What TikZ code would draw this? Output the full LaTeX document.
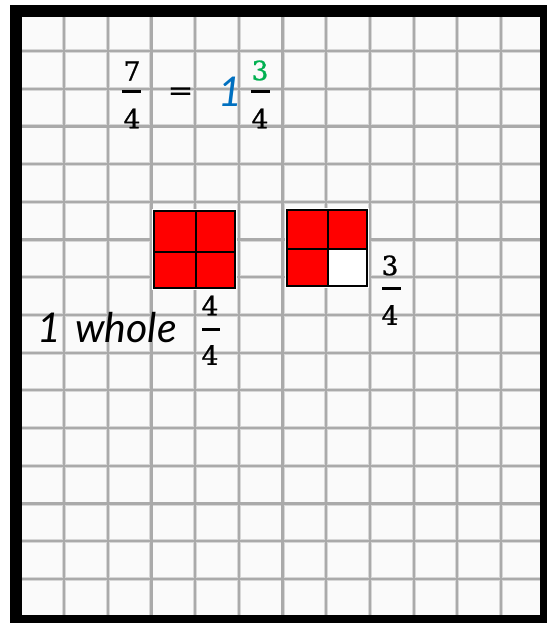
\documentclass[tikz,border=0pt]{standalone}
\usepackage{fontspec}
\newfontfamily\handfont{Lato}
\newfontfamily\digitfont{DejaVu Serif}[FakeBold=1.0]
\definecolor{gridgray}{RGB}{170,170,170}
\definecolor{gridlight}{RGB}{215,215,215}
\definecolor{bgc}{RGB}{250,250,250}
\definecolor{sqred}{RGB}{255,0,0}
\definecolor{oneblue}{RGB}{0,112,192}
\definecolor{threegreen}{RGB}{0,176,80}
\begin{document}
\begin{tikzpicture}[x=1pt,y=-1pt,
  digit/.style={inner sep=0pt, font={\digitfont\fontsize{26.5}{28}\selectfont}},
  hand/.style={inner sep=0pt, font={\handfont\itshape\fontsize{41}{42}\selectfont}},
  fracbar/.style={line width=3pt},
  cellline/.style={line width=2pt, black},
  gridback/.style={line width=4pt, gridlight},
  gridfront/.style={line width=2.2pt, gridgray}]
\useasboundingbox (0,0) rectangle (546,623);
% frame
\fill[white] (0,0) rectangle (546,623);
\fill[black] (10,5) rectangle (560,640);
\fill[bgc] (22,17) rectangle (540,615);
% grid
\begin{scope}
  \clip (22,17) rectangle (540,615);
  \foreach \i in {0,...,10} {
    \draw[gridback] ({64+43.7*\i},17) -- ({64+43.7*\i},615);
  }
  \foreach \j in {0,...,14} {
    \draw[gridback] (22,{51+37.71*\j}) -- (540,{51+37.71*\j});
  }
  \foreach \i in {0,...,10} {
    \draw[gridfront] ({64+43.7*\i},17) -- ({64+43.7*\i},615);
  }
  \foreach \j in {0,...,14} {
    \draw[gridfront] (22,{51+37.71*\j}) -- (540,{51+37.71*\j});
  }
\end{scope}
% squares
\draw[white, line width=4pt] (154,211) rectangle (235,288);
\fill[sqred] (154,211) rectangle (235,288);
\draw[cellline] (154,211) rectangle (235,288) (196,211) -- (196,288) (154,252) -- (235,252);
\draw[white, line width=4pt] (287,210) rectangle (367,286);
\fill[sqred] (287,210) rectangle (367,286);
\fill[white] (328,249) rectangle (367,286);
\draw[cellline] (287,210) rectangle (367,286) (328,210) -- (328,286) (287,249) -- (367,249);
% top equation
\node[digit] (n7) at (132,71) {7};
\draw[fracbar] (122,92) -- (141,92);
\node[digit] (d7) at (132,118.5) {4};
\node[digit, xscale=1.15] (eq) at (180.5,93.5) {=};
\node[hand, text=oneblue] (one) at (230,91.5) {1};
\node[digit, text=threegreen] (n3) at (260,70.5) {3};
\draw[fracbar] (251,92) -- (270,92);
\node[digit] (d3) at (260,118.5) {4};
% lower fractions
\node[digit] (n44) at (210,305.5) {4};
\draw[fracbar] (202,329) -- (220,329);
\node[digit] (d44) at (210,355) {4};
\node[digit] (n34) at (390,265.5) {3};
\draw[fracbar] (382,288) -- (401,288);
\node[digit] (d34) at (390,315) {4};
% 1 whole
\node[hand, anchor=base] (w1) at (49,342) {1};
\node[hand, anchor=base west] (whole) at (75,342) {whole};
\end{tikzpicture}
\end{document}
